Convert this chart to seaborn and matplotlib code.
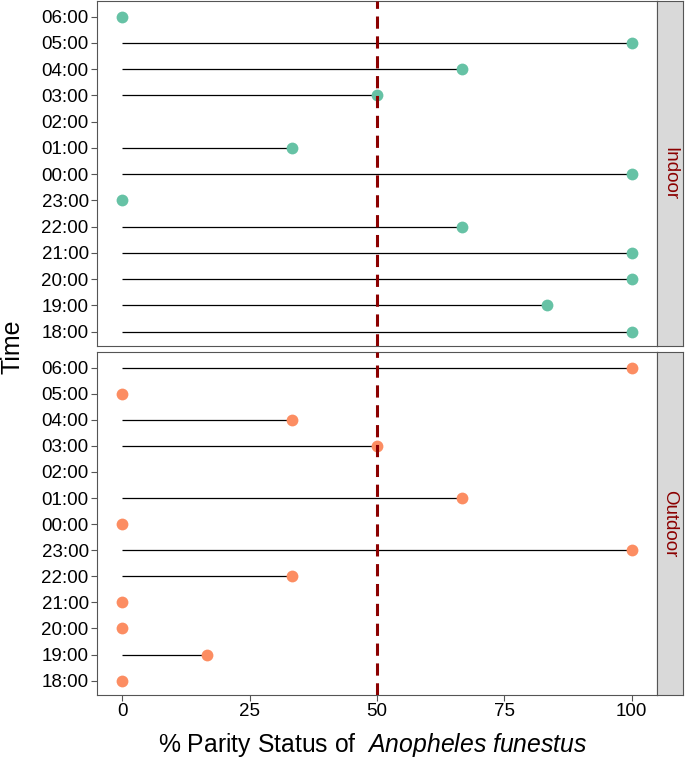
import matplotlib
matplotlib.use("Agg")
import matplotlib.pyplot as plt
import numpy as np
import pandas as pd
import seaborn as sns

sns.set_style("white")
plt.rcParams["font.family"] = ["Liberation Sans", "DejaVu Sans"]
plt.rcParams["mathtext.fontset"] = "custom"
plt.rcParams["mathtext.it"] = "Liberation Sans:italic"
plt.rcParams["mathtext.rm"] = "Liberation Sans"
plt.rcParams["text.color"] = "black"

# Data (top to bottom on the y axis)
times = ["06:00", "05:00", "04:00", "03:00", "02:00", "01:00", "00:00",
         "23:00", "22:00", "21:00", "20:00", "19:00", "18:00"]
indoor = [0, 100, 66.7, 50, np.nan, 33.3, 100, 0, 66.7, 100, 100, 83.3, 100]
outdoor = [100, 0, 33.3, 50, np.nan, 66.7, 0, 100, 33.3, 0, 0, 16.7, 0]
panels = ["Indoor", "Outdoor"]
colors = ["#66C2A5", "#FC8D62"]

W, H = 685, 761
fig = plt.figure(figsize=(W / 100, H / 100), dpi=100)


def fx(px):
    return px / W


def fy(px):
    return 1 - px / H


boxes = [(1, 346), (352, 695)]
axes = []
for (top, bottom), name, vals, col in zip(boxes, panels, [indoor, outdoor], colors):
    ax = fig.add_axes([fx(97), fy(bottom), fx(657) - fx(97), fy(top) - fy(bottom)])
    df = pd.DataFrame({"time": times, "value": vals}).dropna()

    pos = [times.index(t) for t in df["time"]]
    ax.hlines(pos, 0, df["value"], color="black", linewidth=0.9, zorder=1)
    sns.stripplot(data=df, x="value", y="time", order=times, jitter=False,
                  color=col, size=8.5, linewidth=0, ax=ax, zorder=2)
    ax.axvline(50, color="#8B0000", linestyle=(0, (4, 2.5)), linewidth=2.2, zorder=3)

    ax.set_xlim(-5, 105)
    ax.set_ylim(len(times) - 0.45, -0.6)
    ax.set_xticks([0, 25, 50, 75, 100])
    ax.set_ylabel("")
    ax.set_xlabel("")
    ax.tick_params(axis="both", which="both", left=True, bottom=True,
                   length=4, width=0.8, color="#555555", labelsize=13.5,
                   labelcolor="black", pad=2)
    for s in ax.spines.values():
        s.set_color("#555555")
        s.set_linewidth(0.8)

    # facet strip on the right
    sax = fig.add_axes([fx(657), fy(bottom), fx(683) - fx(657), fy(top) - fy(bottom)])
    sax.set_facecolor("#D9D9D9")
    sax.set_xticks([])
    sax.set_yticks([])
    for s in sax.spines.values():
        s.set_color("#555555")
        s.set_linewidth(0.8)
    sax.text(0.5, 0.5, name, rotation=-90, ha="center", va="center",
             color="#8B0000", fontsize=13.5, transform=sax.transAxes)
    axes.append(ax)

axes[0].tick_params(axis="x", labelbottom=False, bottom=False)

fig.text(fx(12), fy(347), "Time", rotation=90, ha="center", va="center", fontsize=18)
fig.text(fx(373), fy(745), r"% Parity Status of  $\it{Anopheles\ funestus}$",
         ha="center", va="center", fontsize=17.8)

fig.savefig("out.png", dpi=100)
